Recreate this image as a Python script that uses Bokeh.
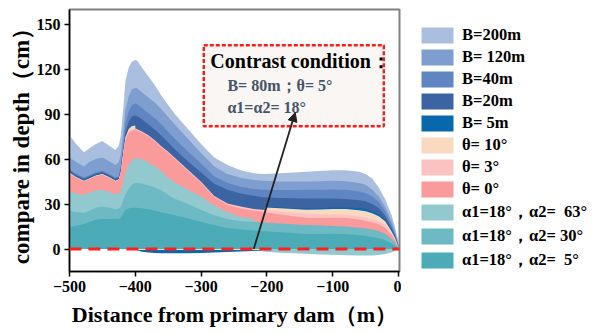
from bokeh.plotting import figure
from bokeh.layouts import row
from bokeh.models import (Range1d, Legend, LegendItem, BoxAnnotation, Label,
                          Arrow, NormalHead, FixedTicker)
from bokeh.embed import file_html
from bokeh.resources import INLINE

# ---------------- data ----------------
distance = [-500, -490, -478, -470, -460, -450, -440, -430, -425, -422, -418, -415, -410, -405,
            -400, -397, -390, -380, -370, -360, -350, -340, -320, -300, -280, -260, -240, -220,
            -207, -203, -180, -160, -140, -120, -100, -80, -60, -50, -40, -30, -20, -10, -5, 0]

B200 = [76, 70, 64.5, 67, 70, 72, 69, 66, 69, 76, 95, 112, 121, 125,
        126, 125.5, 121, 115, 109, 102, 96, 90, 80, 70, 61, 56, 52.5, 50.5,
        50, 50, 50.5, 51, 51.5, 52, 52.5, 52.5, 51.5, 50, 47, 41, 33, 22, 14, 5]
B120 = [61, 58, 55, 58, 60, 61, 58.5, 56, 58, 63, 80, 93, 102, 106.5,
        107.5, 107, 104.5, 101, 97.5, 93, 88, 83, 73.5, 64, 55, 50, 47.5, 46,
        45.5, 45.5, 45, 45, 45, 45.2, 45.5, 45.2, 44, 42.8, 39.5, 35, 28, 18, 11, 3]
B40 = [53.1, 50.1, 47.6, 49.1, 51.1, 52.1, 50.1, 47.6, 48.6, 56, 71, 84, 92, 96,
       97, 96.5, 94, 90.5, 87, 83, 78, 73.5, 65, 57, 48.5, 44, 41.5, 40,
       39.5, 39.5, 39.3, 39.3, 39.5, 39.5, 39.7, 39.5, 38.3, 37.3, 35, 31.5, 25, 15.5, 9.5, 2.5]
B20 = [52.3, 49.3, 46.8, 48.3, 50.3, 51.3, 49.3, 46.8, 47.8, 54, 68, 78, 85, 88.5,
       89, 88.5, 86.5, 83, 79.5, 75.5, 71, 66.5, 58.5, 51, 43.5, 39.5, 37, 35.5,
       34.5, 34.5, 34, 33.8, 33.6, 33.6, 33.6, 33.4, 32.5, 31.8, 30, 27.4, 22, 13.5, 8.5, 2]
B5 = [51.5, 48.5, 46, 47.5, 49.5, 50.5, 48.5, 46, 47, 52, 66, 75, 80.5, 82.5,
      83, -0.8, -1.8, -2.3, -2.6, -2.8, -2.9, -2.9, -2.8, -2.6, -2.3, -2, -1.7, -1.3,
      -1.0, 28, 27.6, 27.2, 27, 27.2, 27.6, 27.6, 27.1, 26.6, 25.2, 23.2, 19.3, 12, 7.5, 1.5]
T10 = [51, 48, 45.5, 47, 49, 50, 48, 45.5, 46.5, 51.5, 65.5, 74.5, 80, 82,
       82.3, -0.6, -0.6, -0.6, -0.6, -0.6, -0.6, -0.6, -0.6, -0.6, -0.6, -0.6, -0.6, -0.6,
       -0.6, 27.6, 27.1, 26.6, 26.2, 26.4, 26.7, 26.6, 25.9, 25.1, 23.8, 21.8, 18.3, 11.4, 7, 1.3]
T3 = [50.8, 47.8, 45.3, 46.8, 48.8, 49.8, 47.8, 45.3, 46.3, 51.3, 65, 73.8, 78.5, 80,
      80.3, 79.8, 78.3, 75.8, 72.3, 68.3, 64.8, 60.8, 52.8, 44.8, 35.3, 30.3, 28.3, 26.7,
      26.2, 26, 25, 24.2, 23.5, 23.2, 23, 22.8, 21.7, 20.8, 19.8, 18.7, 16, 10.3, 6.3, 1.2]
T0 = [50.5, 47.5, 45, 46.5, 48.5, 49.5, 47.5, 45, 46, 51, 64.5, 73, 77.5, 79,
      79.5, 79, 77.5, 75, 71.5, 67.5, 64, 60, 52, 44, 34.5, 29.5, 27, 25.5,
      24.8, 24.5, 23, 21.8, 20.8, 20.7, 20.8, 20.6, 19.6, 18.7, 17.8, 16.5, 14, 9, 5.5, 1]
A63 = [38.4, 37, 36, 37.5, 39, 39.5, 38, 36.5, 37, 39, 46, 51, 56, 59,
       60.5, 60.5, 60, 57.5, 55, 52, 47.5, 44.5, 39.5, 35, 29, 24.5, 21.5, 20,
       -1.3, -1.8, -2.5, -2.8, -3.2, -3.6, -3.9, -4.2, -4.4, -4.4, -4.3, -4, -3.4, -2.2, -1.2, 0]
A30 = [25.7, 24.5, 24, 25.5, 27.5, 28.5, 27.5, 26.5, 27, 28, 33, 36.5, 40, 43,
       44, 44, 43.5, 42.5, 41, 39, 36, 33.5, 30, 26, 22.5, 20, 18.5, 18,
       17.8, 17.6, 17, 16.5, 16, 15.8, 15.4, 15, 14.2, 13.8, 13, 12, 10, 6.5, 4, 1]
A5 = [14.7, 15.5, 16.7, 18, 19.5, 20, 20, 20, 20, 21, 24, 26, 27, 27.5,
      27.5, 27.5, 27.2, 26.5, 25.5, 24.5, 23.5, 22.5, 20.5, 18, 16, 14, 13, 12.3,
      12, 11.8, 11.2, 10.6, 10, 10, 10.2, 10, 9.2, 8.8, 8, 7.2, 5.8, 3.5, 2, 0.5]

labels = ["B=200m", "B= 120m", "B=40m", "B=20m", "B= 5m", "θ= 10°", "θ= 3°", "θ= 0°",
          "α1=18°，α2=  63°", "α1=18°，α2= 30°", "α1=18°，α2=  5°"]
series = [B200, B120, B40, B20, B5, T10, T3, T0, A63, A30, A5]
colors = ["#AABFDF", "#7E9ECF", "#5F86C3", "#3C64A2", "#0868AC", "#F9D9BF", "#FCC1C1",
          "#FA9A9A", "#91C9CF", "#6DBAC4", "#4BABB7"]

x_ticks = [-500, -400, -300, -200, -100, 0]
y_ticks = [0, 30, 60, 90, 120, 150]

FONT = "Liberation Serif"

# ---------------- main plot ----------------
p = figure(width=401, height=334, output_backend="svg", toolbar_location=None,
           x_range=Range1d(-500, 1.5), y_range=Range1d(-15, 159.7),
           min_border_left=69, min_border_right=2, min_border_top=6, min_border_bottom=63)

for vals, col in zip(series, colors):
    p.varea(x=distance, y1=0, y2=vals, fill_color=col, fill_alpha=1)

p.xgrid.visible = False
p.ygrid.visible = False
p.outline_line_color = "#808080"
p.outline_line_width = 2

for ax, ticks in ((p.xaxis[0], x_ticks), (p.yaxis[0], y_ticks)):
    ax.ticker = FixedTicker(ticks=ticks)
    ax.minor_tick_line_color = None
    ax.major_tick_in = 0
    ax.major_tick_out = 5
    ax.major_tick_line_color = "black"
    ax.major_tick_line_width = 1.5
    ax.axis_line_color = "black"
    ax.axis_line_width = 1.5
    ax.major_label_text_font = FONT
    ax.major_label_text_font_style = "bold"
    ax.major_label_text_font_size = "16px"
    ax.major_label_text_color = "black"
    ax.axis_label_text_font = FONT
    ax.axis_label_text_font_style = "bold"
    ax.axis_label_text_color = "black"

p.xaxis.axis_label = "Distance from primary dam（m）"
p.yaxis.axis_label = "compare in depth（cm）"
p.xaxis.axis_label_text_font_size = "22px"
p.yaxis.axis_label_text_font_size = "23px"
p.xaxis.major_label_standoff = 4
p.xaxis.axis_label_standoff = 7
p.yaxis.major_label_standoff = 4
p.yaxis.axis_label_standoff = 0

# zero reference line (dashed red)
p.add_layout(Arrow(end=None, x_start=-529, y_start=0, x_end=13.5, y_end=0,
                   line_color="#FF1F1F", line_width=3, line_dash="12 7"))

# annotation box
p.add_layout(BoxAnnotation(left=-295.9, right=-22.3, bottom=81.9, top=135.8,
                           fill_color="#FAF6F3", fill_alpha=1,
                           line_color="#FF1A1A", line_alpha=1, line_width=2.5,
                           line_dash="4 2"))
p.add_layout(Label(x=-286, y=125.4, text="Contrast condition：", text_font=FONT,
                   text_font_style="bold", text_font_size="20px", text_color="black",
                   text_baseline="middle"))
p.add_layout(Label(x=-260, y=109.3, text="B= 80m；θ= 5°", text_font=FONT,
                   text_font_style="bold", text_font_size="16px", text_color="#44546A",
                   text_baseline="middle"))
p.add_layout(Label(x=-260, y=94.5, text="α1=α2= 18°", text_font=FONT,
                   text_font_style="bold", text_font_size="16px", text_color="#44546A",
                   text_baseline="middle"))
p.add_layout(Arrow(end=NormalHead(size=9, fill_color="#222222", line_color="#222222"),
                   x_start=-220, y_start=0, x_end=-157, y_end=91,
                   line_color="#222222", line_width=1.8))

# ---------------- legend panel ----------------
q = figure(width=192, height=334, output_backend="svg", toolbar_location=None,
           x_range=Range1d(0, 1), y_range=Range1d(0, 1),
           min_border_left=0, min_border_right=0, min_border_top=9, min_border_bottom=0)
q.axis.visible = False
q.xgrid.visible = False
q.ygrid.visible = False
q.outline_line_color = None

items = []
for lab, col in zip(labels, colors):
    # zero-height placeholder area: only its legend swatch is visible
    r = q.varea(x=[0, 1], y1=[0, 0], y2=[0, 0], fill_color=col, fill_alpha=1)
    items.append(LegendItem(label=lab, renderers=[r]))

legend = Legend(items=items, location="top_left", glyph_width=40, glyph_height=20,
                label_height=20, spacing=2, padding=4, margin=12, label_standoff=5,
                label_text_font=FONT, label_text_font_style="bold",
                label_text_font_size="16.5px", label_text_color="black",
                border_line_alpha=0, background_fill_alpha=0)
q.add_layout(legend)

layout = row(p, q)
open("out.html", "w").write(file_html(layout, INLINE))
